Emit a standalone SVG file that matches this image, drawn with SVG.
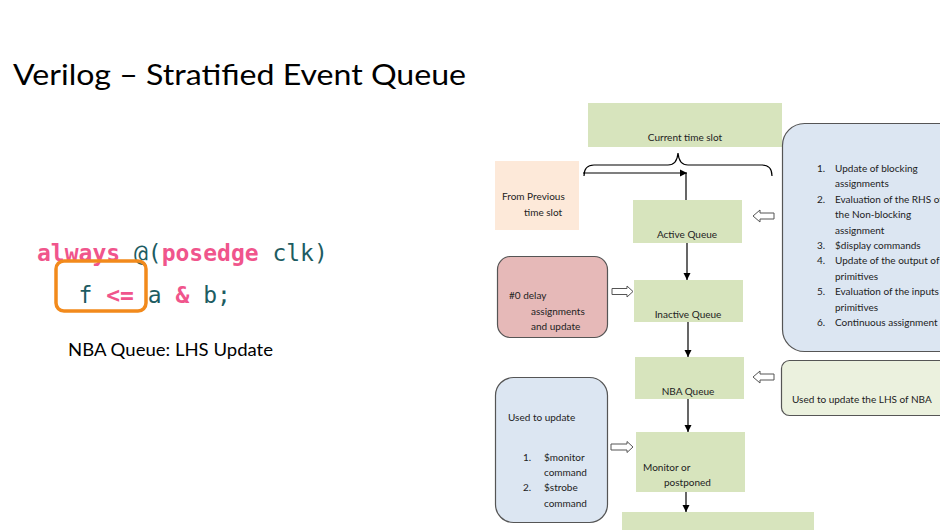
<svg xmlns="http://www.w3.org/2000/svg" width="940" height="530" viewBox="0 0 940 530">
  <defs>
    <style>
      .title { font-family: Lato, "Open Sans", sans-serif; font-size: 29px; fill: #000; }
      .note { font-family: Lato, "Open Sans", sans-serif; font-size: 17px; fill: #000; }
      .code { font-family: "DejaVu Sans Mono", "Liberation Mono", monospace; font-size: 23px; }
      .kw { fill: #f0558c; font-weight: bold; }
      .id { fill: #1d5c62; }
      .lbl { font-family: Lato, "Open Sans", sans-serif; font-size: 10px; fill: #222; }
      .q { fill: #d7e4bd; }
      .box { stroke: #555; stroke-width: 1.2; }
      .conn { stroke: #000; stroke-width: 1.2; fill: none; }
      .hollow { fill: #fff; stroke: #555; stroke-width: 1; }
    </style>
    <marker id="ah" viewBox="0 0 10 10" refX="10" refY="5" markerWidth="6" markerHeight="6" orient="auto">
      <path d="M0,0 L10,5 L0,10 Z" fill="#000"/>
    </marker>
  </defs>

  <rect width="940" height="530" fill="#fff"/>

  <!-- heading -->
  <text class="title" x="13" y="85" textLength="453" lengthAdjust="spacingAndGlyphs">Verilog – Stratified Event Queue</text>

  <!-- code sample -->
  <g id="code">
    <text class="code" x="37" y="261"><tspan class="kw">always</tspan><tspan class="id"> @(</tspan><tspan class="kw">posedge</tspan><tspan class="id"> clk)</tspan></text>
    <text class="code" x="37" y="303" xml:space="preserve"><tspan class="id">   f </tspan><tspan class="kw">&lt;=</tspan><tspan class="id"> a </tspan><tspan class="kw">&amp;</tspan><tspan class="id"> b;</tspan></text>
    <rect x="56" y="261" width="90" height="50" rx="8" fill="none" stroke="#f28a1c" stroke-width="3.5"/>
    <text class="note" x="68" y="356" textLength="205" lengthAdjust="spacingAndGlyphs">NBA Queue: LHS Update</text>
  </g>

  <!-- queue stages -->
  <g id="current-slot">
    <rect class="q" x="588" y="103" width="194" height="44"/>
    <text class="lbl" x="685" y="141" text-anchor="middle">Current time slot</text>
  </g>
  <g id="previous-slot">
    <rect x="495" y="161" width="84" height="69" fill="#fde9d9"/>
    <text class="lbl" x="502" y="200">From Previous</text>
    <text class="lbl" x="524" y="216">time slot</text>
  </g>
  <g id="active-queue">
    <rect class="q" x="633" y="200" width="109" height="43"/>
    <text class="lbl" x="687" y="238" text-anchor="middle">Active Queue</text>
  </g>
  <g id="inactive-queue">
    <rect class="q" x="634" y="280" width="109" height="42"/>
    <text class="lbl" x="688" y="318" text-anchor="middle">Inactive Queue</text>
  </g>
  <g id="nba-queue">
    <rect class="q" x="635" y="357" width="109" height="42"/>
    <text class="lbl" x="688" y="395" text-anchor="middle">NBA Queue</text>
  </g>
  <g id="monitor-queue">
    <rect class="q" x="636" y="432" width="109" height="60"/>
    <text class="lbl" x="643" y="471">Monitor or</text>
    <text class="lbl" x="664" y="486">postponed</text>
  </g>
  <g id="next-stage">
    <rect class="q" x="622" y="512" width="192" height="30"/>
  </g>

  <!-- side notes -->
  <g id="zero-delay">
    <rect class="box" x="497.5" y="256.5" width="110" height="81" rx="13" fill="#e6b9b8"/>
    <text class="lbl" x="509" y="299">#0 delay</text>
    <text class="lbl" x="531" y="315">assignments</text>
    <text class="lbl" x="531" y="330">and update</text>
  </g>
  <g id="monitor-note">
    <rect class="box" x="495.5" y="377.5" width="112" height="145" rx="18" fill="#dce6f2"/>
    <text class="lbl" x="508" y="421">Used to update</text>
    <text class="lbl" x="523" y="461">1.</text>
    <text class="lbl" x="544" y="461">$monitor</text>
    <text class="lbl" x="544" y="476">command</text>
    <text class="lbl" x="523" y="491">2.</text>
    <text class="lbl" x="544" y="491">$strobe</text>
    <text class="lbl" x="544" y="507">command</text>
  </g>
  <g id="active-note">
    <rect class="box" x="782.5" y="123.5" width="180" height="228" rx="22" fill="#dce6f2"/>
    <text class="lbl" x="817" y="172">1.</text>
    <text class="lbl" x="835" y="172">Update of blocking</text>
    <text class="lbl" x="835" y="187">assignments</text>
    <text class="lbl" x="817" y="203">2.</text>
    <text class="lbl" x="835" y="203">Evaluation of the RHS of</text>
    <text class="lbl" x="835" y="218">the Non-blocking</text>
    <text class="lbl" x="835" y="234">assignment</text>
    <text class="lbl" x="817" y="249">3.</text>
    <text class="lbl" x="835" y="249">$display commands</text>
    <text class="lbl" x="817" y="264">4.</text>
    <text class="lbl" x="835" y="264">Update of the output of</text>
    <text class="lbl" x="835" y="280">primitives</text>
    <text class="lbl" x="817" y="295">5.</text>
    <text class="lbl" x="835" y="295">Evaluation of the inputs</text>
    <text class="lbl" x="835" y="311">primitives</text>
    <text class="lbl" x="817" y="326">6.</text>
    <text class="lbl" x="835" y="326">Continuous assignment</text>
  </g>
  <g id="nba-note">
    <rect class="box" x="781.5" y="360.5" width="180" height="55" rx="8" fill="#ebf1de"/>
    <text class="lbl" x="792" y="403">Used to update the LHS of NBA</text>
  </g>

  <!-- connectors -->
  <g id="connectors">
    <path class="conn" d="M584,176 Q584,165 594,165 L668,165 Q677,165 678,153 Q679,165 688,165 L762,165 Q772,165 772,176" stroke-width="1"/>
    <path class="conn" d="M583,173 L687,173" marker-end="url(#ah)"/>
    <path class="conn" d="M686,173 L686,200"/>
    <path class="conn" d="M687,243 L687,280" marker-end="url(#ah)"/>
    <path class="conn" d="M688,322 L688,357" marker-end="url(#ah)"/>
    <path class="conn" d="M688,399 L688,432" marker-end="url(#ah)"/>
    <path class="conn" d="M686,492 L686,512" marker-end="url(#ah)"/>
    <!-- block arrows -->
    <path class="hollow" d="M753,216 L760,210 L760,213 L774,213 L774,219 L760,219 L760,222 Z"/>
    <path class="hollow" d="M633,291.5 L627,286 L627,288.5 L612,288.5 L612,294.5 L627,294.5 L627,297 Z"/>
    <path class="hollow" d="M753,377 L760,371 L760,374 L774,374 L774,380 L760,380 L760,383 Z"/>
    <path class="hollow" d="M633,447 L627,441.5 L627,444 L611,444 L611,450 L627,450 L627,452.5 Z"/>
  </g>
</svg>
